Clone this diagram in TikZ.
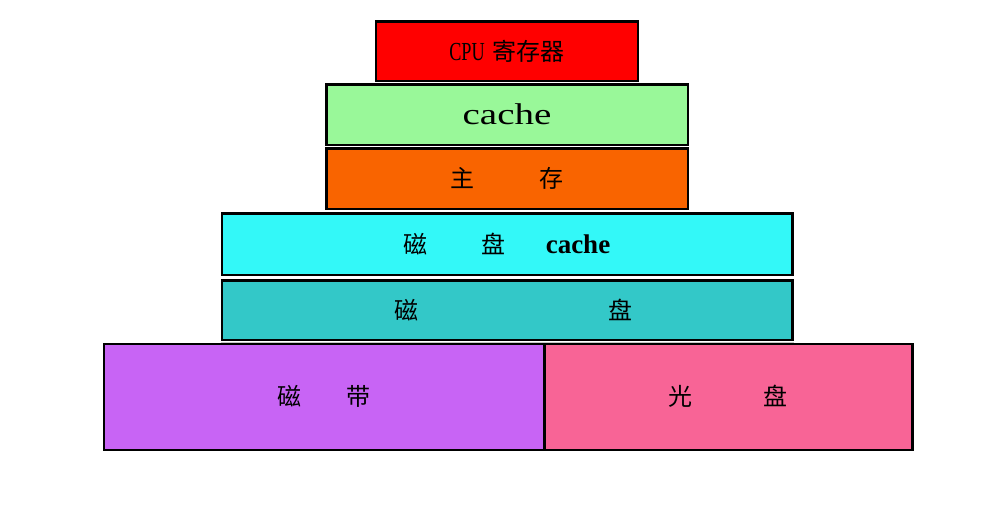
\documentclass[tikz,border=0pt]{standalone}
\usepackage{fontspec}
\setmainfont{Liberation Serif}
\newfontfamily\cjk{Noto Sans CJK SC}
\newfontfamily\narrow[FakeStretch=0.7]{Liberation Serif}
\newfontfamily\wide[FakeStretch=1.3]{Liberation Serif}
\usetikzlibrary{positioning}

\definecolor{regred}{HTML}{FF0000}
\definecolor{cachegreen}{HTML}{99F899}
\definecolor{memorange}{HTML}{F96400}
\definecolor{dcachecyan}{HTML}{33F8F8}
\definecolor{diskteal}{HTML}{33C8C8}
\definecolor{tapepurple}{HTML}{C864F5}
\definecolor{cdpink}{HTML}{F86496}

\begin{document}
\begin{tikzpicture}
 [ x=1pt, y=-1pt
 , layer/.style={draw=black, line width=2.5pt, inner sep=0pt, text=black}
 , cjktext/.style={font=\cjk\fontsize{24}{26}\selectfont}
 , node distance=1pt
 ]
  \useasboundingbox (0,0) rectangle (996,531);

  % top of the pyramid
  \node [layer, fill=regred, minimum width=262pt, minimum height=59.5pt]
    (cpu) at (507,51) {\narrow\fontsize{26}{28}\selectfont CPU\hspace{8pt}{\cjk\fontsize{24}{26}\selectfont 寄存器}};
  \node [layer, fill=cachegreen, minimum width=361.5pt, minimum height=60.5pt, below=of cpu]
    (cache) {\raisebox{-2pt}{\wide\fontsize{30}{32}\selectfont cache}};
  \node [layer, fill=memorange, minimum width=361.5pt, minimum height=60.5pt, below=of cache, cjktext]
    (mem) {\raisebox{-3pt}{主\hspace{65pt}存}};
  \node [layer, fill=dcachecyan, minimum width=570.5pt, minimum height=61.5pt, below=2pt of mem]
    (dcache) {{\cjk\fontsize{24}{26}\selectfont 磁\hspace{54pt}盘}\hspace{40pt}{\bfseries\fontsize{27}{29}\selectfont cache}};
  \node [layer, fill=diskteal, minimum width=570.5pt, minimum height=59.5pt, below=3pt of dcache, cjktext]
    (disk) {\hspace*{12pt}磁\hspace{190pt}盘};
  \draw [gray!45, line width=1.5pt] ([yshift=-1.5pt]disk.south west) -- ([yshift=-1.5pt]disk.south east);

  % bottom row
  \node [layer, fill=tapepurple, minimum width=440.5pt, minimum height=106pt, anchor=north west, cjktext]
    (tape) at (102.5,342.5) {\raisebox{-4pt}{磁\hspace{46pt}带}};
  \node [layer, fill=cdpink, minimum width=368pt, minimum height=106pt, right=-2.5pt of tape, cjktext]
    (cd) {\raisebox{-3pt}{光\hspace{71pt}盘}};
\end{tikzpicture}
\end{document}
